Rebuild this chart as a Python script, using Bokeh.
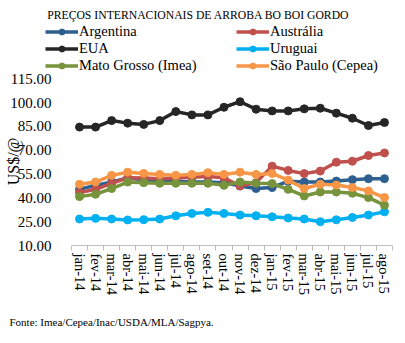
import math
from bokeh.plotting import figure
from bokeh.models import (Range1d, FixedTicker, Legend, LegendItem, Title, Label,
                          NumeralTickFormatter, ColumnDataSource)
from bokeh.embed import file_html
from bokeh.resources import INLINE

months = ["jan-14", "fev-14", "mar-14", "abr-14", "mai-14", "jun-14", "jul-14",
          "ago-14", "set-14", "out-14", "nov-14", "dez-14", "jan-15", "fev-15",
          "mar-15", "abr-15", "mai-15", "jun-15", "jul-15", "ago-15"]

argentina = [45.4, 47.9, 50.0, 52.5, 51.5, 51.0, 50.5, 50.0, 50.0, 49.6,
             47.5, 45.9, 46.5, 50.5, 50.0, 50.0, 50.6, 51.5, 52.1, 52.1]
australia = [43.3, 45.4, 49.2, 52.7, 52.5, 52.0, 52.5, 53.0, 53.5, 52.7,
             47.5, 49.6, 60.0, 57.3, 55.3, 56.9, 62.5, 63.1, 66.7, 68.3]
eua = [84.6, 84.6, 88.7, 87.1, 86.3, 88.7, 94.4, 92.3, 92.3, 97.1,
       100.6, 95.9, 94.8, 94.8, 96.1, 96.5, 93.4, 90.2, 85.6, 87.5]
uruguai = [26.7, 27.1, 26.7, 26.1, 26.3, 26.7, 28.7, 30.2, 30.9, 30.2,
           29.2, 28.7, 28.1, 27.3, 26.7, 25.0, 26.2, 27.7, 29.2, 31.2]
mato_grosso = [40.8, 42.3, 45.9, 50.0, 49.6, 49.2, 49.2, 49.2, 49.2, 47.9,
               50.0, 49.2, 49.0, 45.4, 41.2, 43.7, 43.7, 42.9, 40.2, 35.4]
sao_paulo = [48.6, 50.0, 54.2, 56.2, 55.4, 54.8, 54.2, 54.8, 55.9, 54.8,
             56.2, 54.8, 55.4, 51.2, 45.9, 48.6, 48.1, 46.5, 44.4, 40.2]

series_names = ["Argentina", "Austrália", "EUA", "Uruguai",
                "Mato Grosso (Imea)", "São Paulo (Cepea)"]
series_values = [argentina, australia, eua, uruguai, mato_grosso, sao_paulo]
series_colors = ["#2E5F91", "#C0504D", "#262626", "#00B0F0", "#77933C", "#F79646"]

y_ticks = [10, 25, 40, 55, 70, 85, 100, 115]
title_text = "PREÇOS INTERNACIONAIS DE ARROBA BO BOI GORDO"
source_text = "Fonte: Imea/Cepea/Inac/USDA/MLA/Sagpya."
y_title = "US$/@"

SERIF = "Liberation Serif"

# layout (pixels): frame spans x F..392, y 0..247; data area x 71..392, y 79..247
FRAME_L, DATA_L, DATA_R = 5, 71, 392
DATA_T, DATA_B = 79, 247
n = len(months)
px_per_x = (DATA_R - DATA_L) / n
y_lo, y_hi = y_ticks[0], y_ticks[-1]
px_per_y = (DATA_B - DATA_T) / (y_hi - y_lo)

p = figure(width=405, height=343, output_backend="svg", toolbar_location=None,
           x_range=Range1d(-0.5 - (DATA_L - FRAME_L) / px_per_x, n - 0.5),
           y_range=Range1d(y_lo, y_lo + DATA_B / px_per_y),
           min_border_left=FRAME_L, min_border_right=405 - DATA_R,
           min_border_top=0, min_border_bottom=343 - DATA_B)
p.outline_line_color = None
p.xgrid.visible = False
p.ygrid.visible = False
p.background_fill_color = "white"
p.border_fill_color = "white"

xs = list(range(n))
items = {}
for name, vals, col in zip(series_names, series_values, series_colors):
    src = ColumnDataSource(dict(x=xs, y=vals))
    lr = p.line("x", "y", source=src, line_color=col, line_width=3.5)
    sr = p.scatter("x", "y", source=src, size=8, fill_color=col, line_color=col)
    items[name] = LegendItem(label=name, renderers=[lr, sr])

# legend is filled column by column: left column first, then right column
legend_order = series_names[0::2] + series_names[1::2]

# x axis
xa = p.xaxis[0]
xa.bounds = (-0.5, n - 0.5)
xa.ticker = FixedTicker(ticks=xs, minor_ticks=[i - 0.5 for i in range(n + 1)])
xa.major_label_overrides = {i: m for i, m in enumerate(months)}
xa.major_label_orientation = "vertical"
xa.major_tick_line_color = None
xa.minor_tick_line_color = "#BFBFBF"
xa.minor_tick_in = 0
xa.minor_tick_out = 5
xa.axis_line_color = "#BFBFBF"
xa.major_label_text_font = SERIF
xa.major_label_text_font_size = "14.5px"
xa.major_label_text_color = "#000000"
xa.major_label_standoff = 2

# y axis (labels pulled into the frame so that the frame can hold the legend)
ya = p.yaxis[0]
ya.ticker = FixedTicker(ticks=y_ticks)
ya.formatter = NumeralTickFormatter(format="0.00")
ya.axis_line_color = None
ya.major_tick_line_color = None
ya.minor_tick_line_color = None
ya.major_label_text_font = SERIF
ya.major_label_text_font_size = "15px"
ya.major_label_text_color = "#000000"
ya.major_label_standoff = FRAME_L - 57

ylab = Label(x=12.5 - FRAME_L, y=DATA_B - 163, x_units="screen", y_units="screen",
             text=y_title, angle=math.pi / 2, text_align="center",
             text_baseline="middle", text_font=SERIF, text_font_size="16px",
             text_color="#000000")
p.add_layout(ylab)

legend = Legend(items=[items[k] for k in legend_order], ncols=2,
                location=(45 - FRAME_L, 171),
                glyph_width=33, glyph_height=15, label_height=15,
                label_width=157, label_standoff=1, spacing=0, padding=0,
                margin=0, border_line_color=None, background_fill_alpha=0,
                label_text_font=SERIF, label_text_font_size="14.5px",
                label_text_line_height=0.85,
                label_text_color="#000000")
p.add_layout(legend, "center")

title = Label(x=198 - FRAME_L, y=DATA_B - 17, x_units="screen", y_units="screen",
              text=title_text, text_align="center", text_baseline="middle",
              text_font=SERIF, text_font_size="11.7px", text_color="#000000")
p.add_layout(title)

footer = Title(text=source_text, align="left", offset=9 - FRAME_L, standoff=31,
               text_font=SERIF, text_font_size="11px",
               text_font_style="normal", text_color="#000000")
p.add_layout(footer, "below")

open("out.html", "w").write(file_html(p, INLINE))
